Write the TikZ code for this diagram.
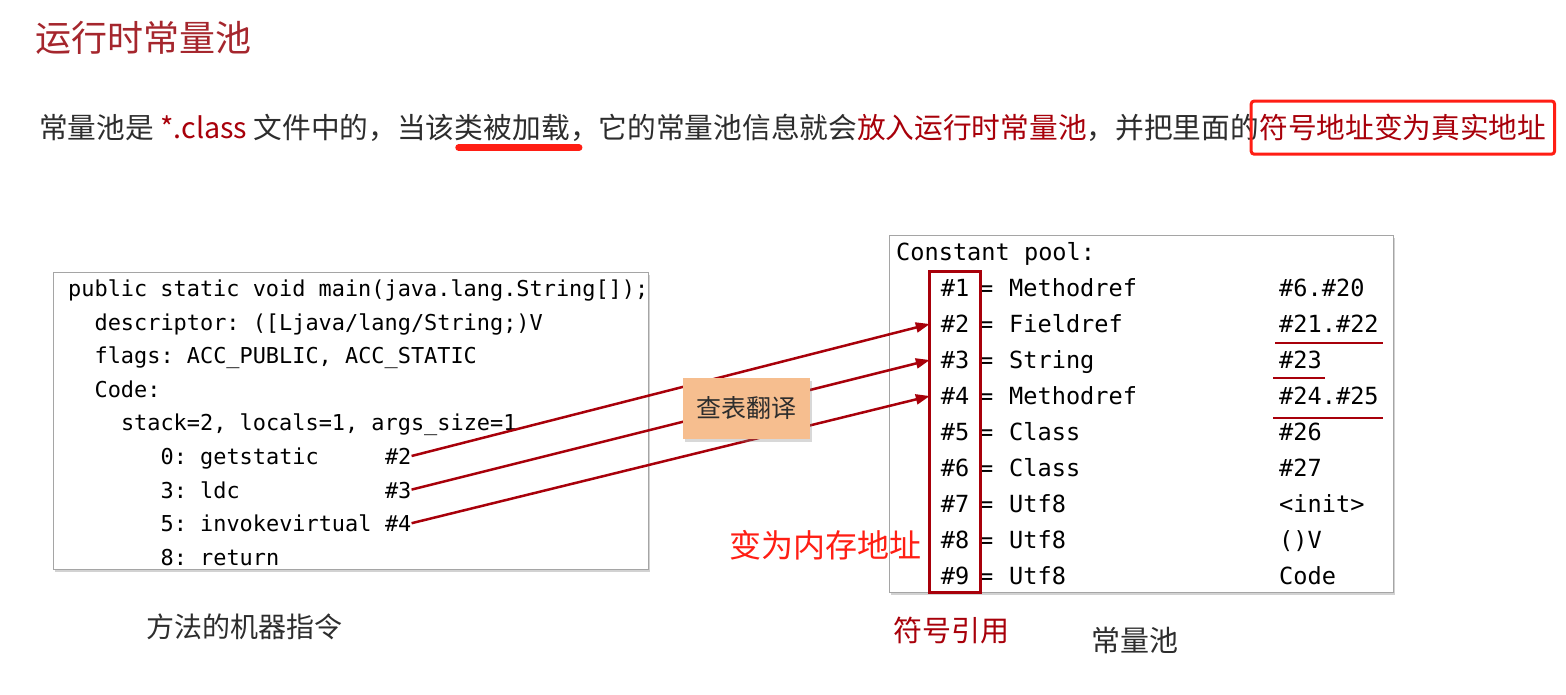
\documentclass[tikz,border=0pt]{standalone}
\usepackage{fontspec}
\setmainfont{Noto Sans CJK SC}
\setmonofont{DejaVu Sans Mono}
\newfontfamily\cjk{Noto Sans CJK SC}
\usetikzlibrary{positioning,fit,calc,shadows,arrows.meta}

\definecolor{titlered}{RGB}{165,38,45}
\definecolor{darkred}{RGB}{168,0,10}
\definecolor{brightred}{RGB}{255,30,20}
\definecolor{textgray}{RGB}{45,45,45}
\definecolor{peach}{RGB}{246,190,143}
\definecolor{boxgray}{RGB}{165,165,165}

\tikzset{
  para/.style={inner sep=0pt, text=textgray, font=\cjk\fontsize{28.7}{34}\selectfont},
  codebox/.style={draw=boxgray, line width=1pt, fill=white, inner sep=0pt,
    drop shadow={shadow xshift=2pt, shadow yshift=-3pt, opacity=0.35}},
  codeline/.style={anchor=west, inner sep=0pt, text=black, text height=17pt, text depth=0pt,
    font=\ttfamily\fontsize{21.9}{26}\selectfont},
  poolline/.style={anchor=west, inner sep=0pt, text=black, text height=17.5pt, text depth=0pt,
    font=\ttfamily\fontsize{23.6}{28}\selectfont},
  refarrow/.style={draw=darkred, line width=2.5pt, -{Triangle[length=14pt,width=10pt]}},
  valline/.style={draw=darkred, line width=2pt},
  lookup/.style={fill=peach, text=textgray, minimum width=127pt, minimum height=61pt,
    font=\cjk\fontsize{25}{30}\selectfont,
    drop shadow={shadow xshift=2pt, shadow yshift=-3pt, opacity=0.3}},
  caption/.style={inner sep=0pt, text=textgray, font=\cjk\fontsize{28}{34}\selectfont}
}

\begin{document}
\begin{tikzpicture}[x=1pt, y=-1pt]
  \useasboundingbox[fill=white] (0,0) rectangle (1566,694);

  % title and sentence
  \node[inner sep=0pt, anchor=west, text=titlered, font=\cjk\fontsize{36}{42}\selectfont] (title) at (35,38) {运行时常量池};
  \node[para, anchor=west] (p1) at (39,128) {常量池是 \textcolor{darkred}{*.class} 文件中的，当该};
  \node[para, anchor=base west] (p2) at (p1.base east) {类被加载};
  \node[para, anchor=base west] (p3) at (p2.base east) {，它的常量池信息就会\textcolor{darkred}{放入运行时常量池}，并把里面的};
  \node[para, anchor=base west, text=darkred] (p4) at (p3.base east) {符号地址变为真实地址};
  \draw[brightred, line width=7pt, line cap=round] ($(p2.base west)+(4,9)$) -- ($(p2.base east)+(9,9)$);
  \node[draw=brightred, line width=3pt, rounded corners=3pt, inner xsep=8pt, inner ysep=13pt, fit=(p4)] (hl) {};

  % method code
  \node[codebox, minimum width=595pt, minimum height=297pt] (code) at (350.5,420.5) {};
  \node[codeline] (c1) at (68,288) {public static void main(java.lang.String[]);};
  \node[codeline] (c2) at (94.4,321.6) {descriptor: ([Ljava/lang/String;)V};
  \node[codeline] (c3) at (94.4,355.2) {flags: ACC\_PUBLIC, ACC\_STATIC};
  \node[codeline] (c4) at (94.4,388.8) {Code:};
  \node[codeline] (c5) at (120.8,422.4) {stack=2, locals=1, args\_size=1};
  \foreach \n/\ins/\y in {0/getstatic/456, 3/ldc/489.6, 5/invokevirtual/523.2, 8/return/556.8}
    \node[codeline] (ins\n) at (160.4,\y) {\n: \ins};
  \node[codeline] (op2) at (384.8,456) {\#2};
  \node[codeline] (op3) at (384.8,489.6) {\#3};
  \node[codeline] (op4) at (384.8,523.2) {\#4};

  % constant pool
  \node[codebox, minimum width=504pt, minimum height=357pt] (pool) at (1141,413.5) {};
  \node[poolline] (cp) at (896,252) {Constant pool:};
  \foreach \i/\kind/\val in {1/Methodref/\#6.\#20, 2/Fieldref/\#21.\#22, 3/String/\#23,
      4/Methodref/\#24.\#25, 5/Class/\#26, 6/Class/\#27, 7/Utf8/<init>, 8/Utf8/()V, 9/Utf8/Code} {
    \pgfmathsetmacro{\y}{288+36*(\i-1)}
    \node[poolline, anchor=center, minimum width=50pt, minimum height=32pt] (n\i) at (955,\y) {\#\i};
    \node[poolline] (eq\i) at (979,\y) {=};
    \node[poolline] (k\i) at (1009,\y) {\kind};
    \node[poolline] (v\i) at (1279,\y) {\val};
  }
  \node[draw=darkred, line width=3pt, inner sep=0pt, fit=(n1)(n9)] (symref) {};
  \draw[valline] ($(v2.west)+(-4,19)$) -- ++(108,0);
  \draw[valline] ($(v3.west)+(-6,18)$) -- ++(52,0);
  \draw[valline] ($(v4.west)+(-6,22)$) -- ++(110,0);

  % translation arrows
  \draw[refarrow] (op2.east) -- (n2.west);
  \draw[refarrow] (op3.east) -- (n3.west);
  \draw[refarrow] (op4.east) -- (n4.west);
  \node[lookup] (table) at (746.5,408.5) {查表翻译};
  \node[inner sep=0pt, anchor=east, text=brightred, font=\cjk\fontsize{32}{38}\selectfont] (mem) at (922,545) {变为内存地址};

  % captions
  \node[caption] (capcode) at (244,627) {方法的机器指令};
  \node[caption, text=darkred, font=\cjk\fontsize{29}{34}\selectfont] (capref) at (951,630) {符号引用};
  \node[caption, font=\cjk\fontsize{29}{34}\selectfont] (cappool) at (1135,640) {常量池};
\end{tikzpicture}
\end{document}
